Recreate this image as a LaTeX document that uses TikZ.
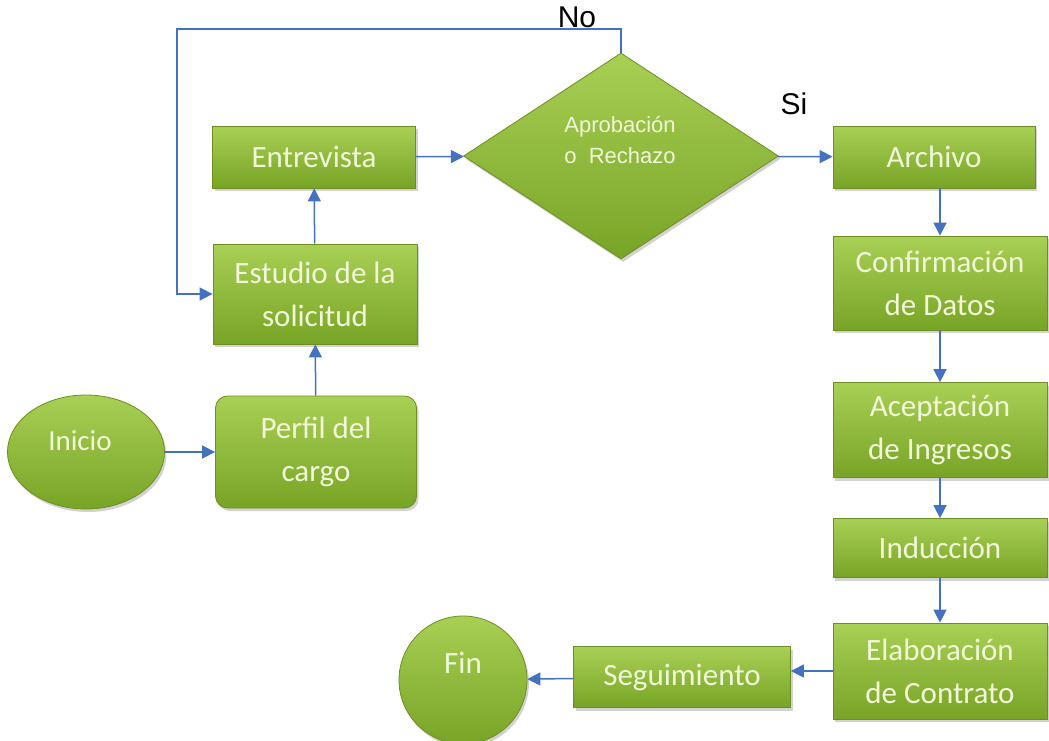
\documentclass[tikz,border=0pt]{standalone}
\usepackage{fontspec}
\setmainfont{Carlito}
\newfontfamily\arialfont{Liberation Sans}
\usetikzlibrary{arrows.meta,positioning,shapes.geometric,shadows}
\definecolor{leaftop}{RGB}{168,208,84}
\definecolor{leafbot}{RGB}{120,164,38}
\definecolor{leafedge}{RGB}{110,142,36}
\definecolor{leaftext}{RGB}{242,247,218}
\definecolor{flowblue}{RGB}{68,114,190}

\begin{document}
\begin{tikzpicture}[x=1pt,y=-1pt,
    box/.style={draw=leafedge,line width=0.8pt,top color=leaftop,bottom color=leafbot,
        text=leaftext,align=center,font=\fontsize{31}{43}\selectfont,inner sep=0pt,
        drop shadow={shadow xshift=2pt,shadow yshift=-3pt,opacity=0.35}},
    terminal/.style={box,ellipse},
    decision/.style={box,diamond,aspect=1.5},
    labeltext/.style={text=leaftext,font=\fontsize{29}{30}\selectfont},
    tag/.style={font=\arialfont\fontsize{30}{30}\selectfont},
    arrow/.style={-{Triangle[length=13pt,width=13pt]},line width=1.5pt,draw=flowblue}
]
\fill[white] (0,0) rectangle (1049,740);
\useasboundingbox (0,0) rectangle (1049,740);

% left column
\node[terminal,minimum width=157pt,minimum height=114pt,
    label={[labeltext,xshift=-6pt,yshift=11pt]center:Inicio}] (inicio) at (86,452) {};
\node[box,rounded corners=12pt,minimum width=201pt,minimum height=112pt] (perfil)
    at (316,452) {Perfil del\\cargo};
\node[box,minimum width=204pt,minimum height=100pt] (estudio)
    at (315,294) {Estudio de la\\solicitud};
\node[box,minimum width=203pt,minimum height=62pt] (entrevista)
    at (314,157) {Entrevista};

% decision
\node[decision,minimum width=315pt,minimum height=206pt] (aprob) at (621,156) {};
\node[text=leaftext,align=center,font=\arialfont\fontsize{22}{31}\selectfont]
    (aprobtext) at (620,140) {Aprobación\\o\ \ Rechazo};
\coordinate (noturn) at (177,29);
\node[tag] (notag) at (577,17) {No};
\node[tag] (sitag) at (794,104) {Si};

% right column
\node[box,minimum width=202pt,minimum height=62pt] (archivo) at (934,157) {Archivo};
\node[box,minimum width=214pt,minimum height=94pt] (confirm)
    at (940,283) {Confirmación\\de Datos};
\node[box,minimum width=214pt,minimum height=95pt] (acept)
    at (940,430) {Aceptación\\de Ingresos};
\node[box,minimum width=214pt,minimum height=59pt] (induc) at (940,548) {Inducción};
\node[box,minimum width=214pt,minimum height=96pt] (elab)
    at (940,671) {Elaboración\\de Contrato};

% bottom row
\node[box,minimum width=217pt,minimum height=61pt] (seg) at (682,677) {Seguimiento};
\node[terminal,circle,minimum size=128pt,
    label={[labeltext,font=\fontsize{31}{32}\selectfont,yshift=17pt]center:Fin}] (fin)
    at (463,680) {};

\draw[arrow] (inicio) -- (perfil);
\draw[arrow] (perfil) -- (estudio);
\draw[arrow] (estudio) -- (entrevista);
\draw[arrow] (entrevista) -- (aprob);
\draw[arrow] (aprob.north) |- (noturn) |- (estudio.west);
\draw[arrow] (aprob) -- (archivo);
\draw[arrow] (archivo.south -| confirm.north) -- (confirm.north);
\draw[arrow] (confirm) -- (acept);
\draw[arrow] (acept) -- (induc);
\draw[arrow] (induc) -- (elab);
\draw[arrow] (elab.west) -- (elab.west -| seg.east);
\draw[arrow] (seg) -- (fin);
\end{tikzpicture}
\end{document}
